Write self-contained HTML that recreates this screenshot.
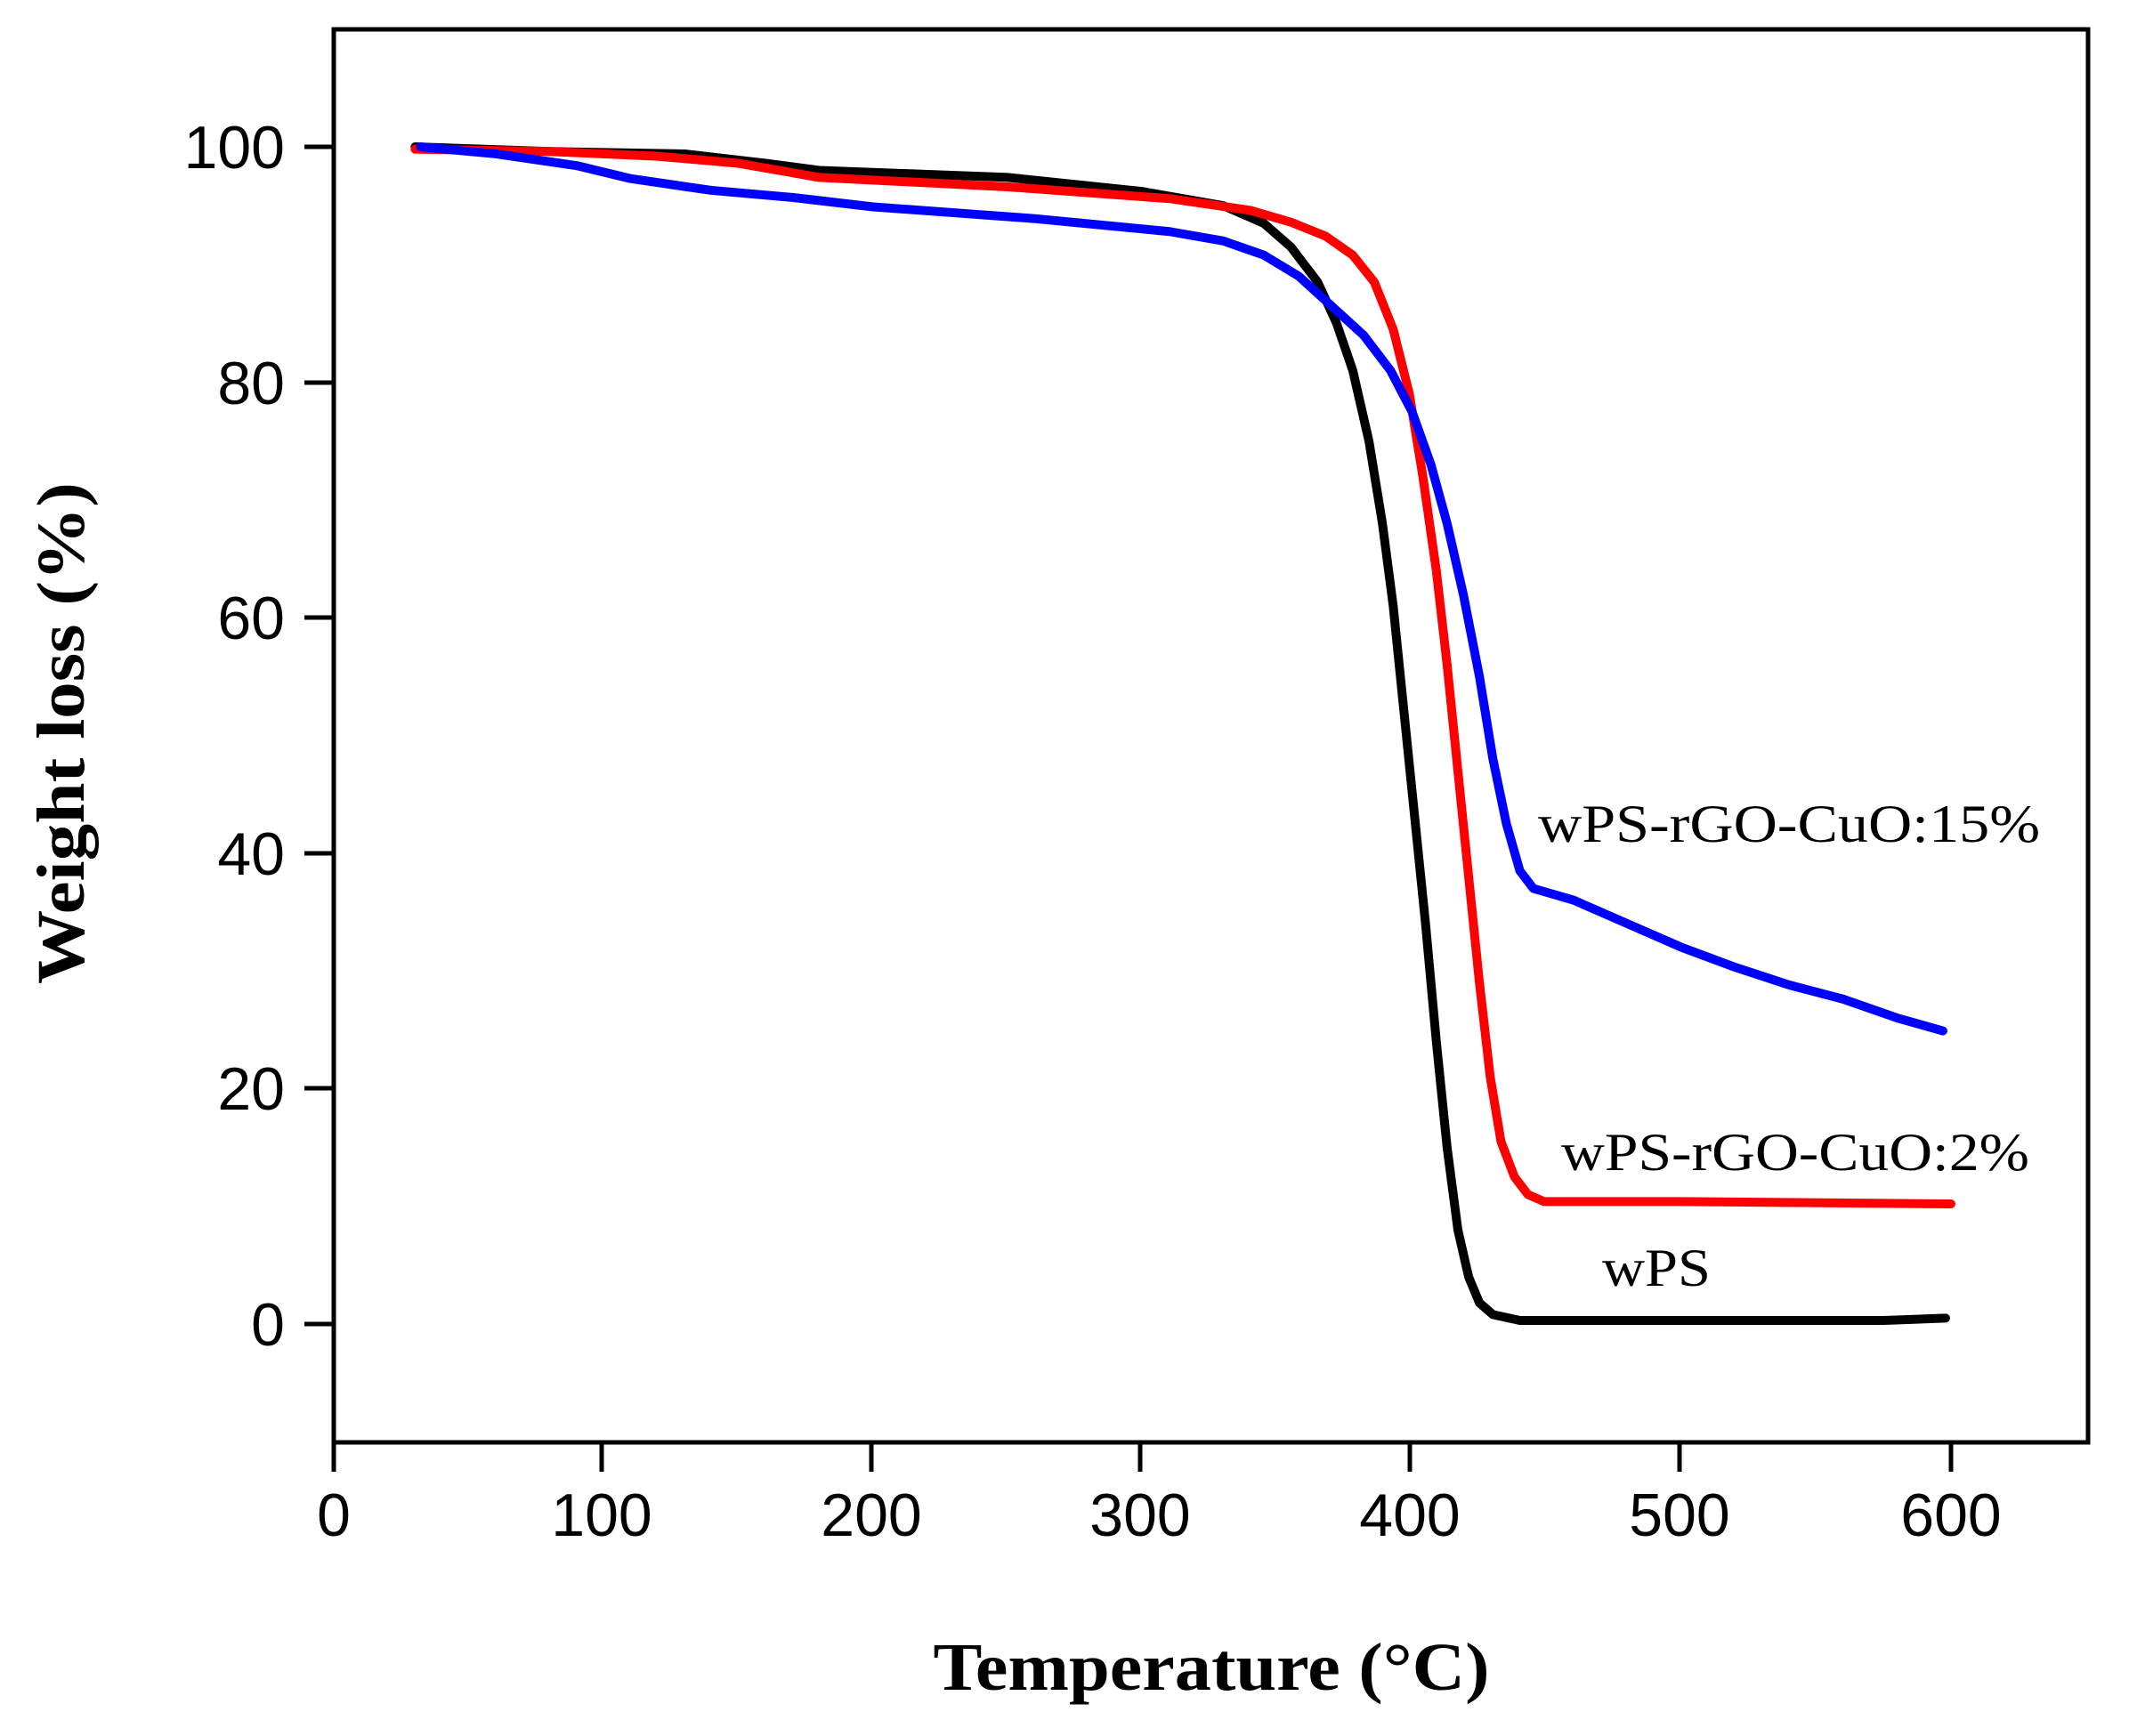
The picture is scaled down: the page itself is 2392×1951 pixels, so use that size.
<!DOCTYPE html>
<html><head><meta charset="utf-8"><style>html,body{margin:0;padding:0;background:#fff}svg{display:block}</style></head>
<body>
<svg width="2392" height="1951" viewBox="0 0 2392 1951" xmlns="http://www.w3.org/2000/svg">
<rect width="2392" height="1951" fill="#fff"/>
<g fill="none" stroke-linejoin="round" stroke-linecap="round" transform="translate(375.5,1488) scale(3.0275,-13.23)">
<polyline vector-effect="non-scaling-stroke" stroke="#000" stroke-width="10" points="30,100 80,99.6 130,99.4 160,98.6 180,98 250,97.4 300,96.2 330,95 345,93.5 355,91.5 365,88.5 372,85 378,81 384,75 389,68 393,61 397,52 401,43 405,34 409,24 413,15 417,8 421,4 425,1.8 430,0.8 440,0.3 500,0.3 575,0.3 598,0.5"/>
<polyline vector-effect="non-scaling-stroke" stroke="#f00" stroke-width="10" points="30,99.8 80,99.6 120,99.2 150,98.6 180,97.4 250,96.6 310,95.6 340,94.6 355,93.6 368,92.4 378,90.8 386,88.5 393,84.5 399,79 404,72 409,64 413,56 417,47 421,38 425,29 429,21 433,15.5 438,12.5 443,11 449,10.4 500,10.4 600,10.2"/>
<polyline vector-effect="non-scaling-stroke" stroke="#00f" stroke-width="10" points="32,100 60,99.4 90,98.4 110,97.3 140,96.3 170,95.7 200,94.9 260,93.9 310,92.8 330,92 345,90.8 358,89 370,86.5 382,84 392,81 400,77.5 407,73 413,68 419,62 425,55 430,48 435,42.5 440,38.5 445,37 460,36 480,34 500,32 520,30.3 540,28.8 560,27.6 580,26 597,24.9"/>
</g>
<g stroke="#000" stroke-width="5" fill="none">
<rect x="375" y="33" width="1971" height="1588"/>
<path d="M375,1621v33M676,1621v33M979,1621v33M1281,1621v33M1584,1621v33M1887,1621v33M2192,1621v33"/>
<path d="M375,1488h-33M375,1223h-33M375,959h-33M375,694h-33M375,430h-33M375,165h-33"/>
</g>
<g font-family="Liberation Sans, sans-serif" font-size="68" fill="#000">
<g text-anchor="end">
<text x="320" y="189">100</text><text x="320" y="454">80</text><text x="320" y="718">60</text><text x="320" y="983">40</text><text x="320" y="1247">20</text><text x="320" y="1512">0</text>
</g>
<g text-anchor="middle">
<text x="375" y="1726">0</text><text x="676" y="1726">100</text><text x="979" y="1726">200</text><text x="1281" y="1726">300</text><text x="1584" y="1726">400</text><text x="1887" y="1726">500</text><text x="2192" y="1726">600</text>
</g>
</g>
<g font-family="Liberation Serif, serif" fill="#000">
<text x="1728" y="946" font-size="60" textLength="564" lengthAdjust="spacingAndGlyphs">wPS-rGO-CuO:15%</text>
<text x="1754" y="1315" font-size="60" textLength="526" lengthAdjust="spacingAndGlyphs">wPS-rGO-CuO:2%</text>
<text x="1800" y="1445" font-size="60" textLength="122" lengthAdjust="spacingAndGlyphs">wPS</text>
<text x="1361" y="1899" font-size="76" font-weight="bold" text-anchor="middle" textLength="625" lengthAdjust="spacingAndGlyphs">Temperature (°C)</text>
<text transform="translate(94,824) rotate(-90)" font-size="76" font-weight="bold" text-anchor="middle" textLength="564" lengthAdjust="spacingAndGlyphs">Weight loss (%)</text>
</g>
</svg>
</body></html>
